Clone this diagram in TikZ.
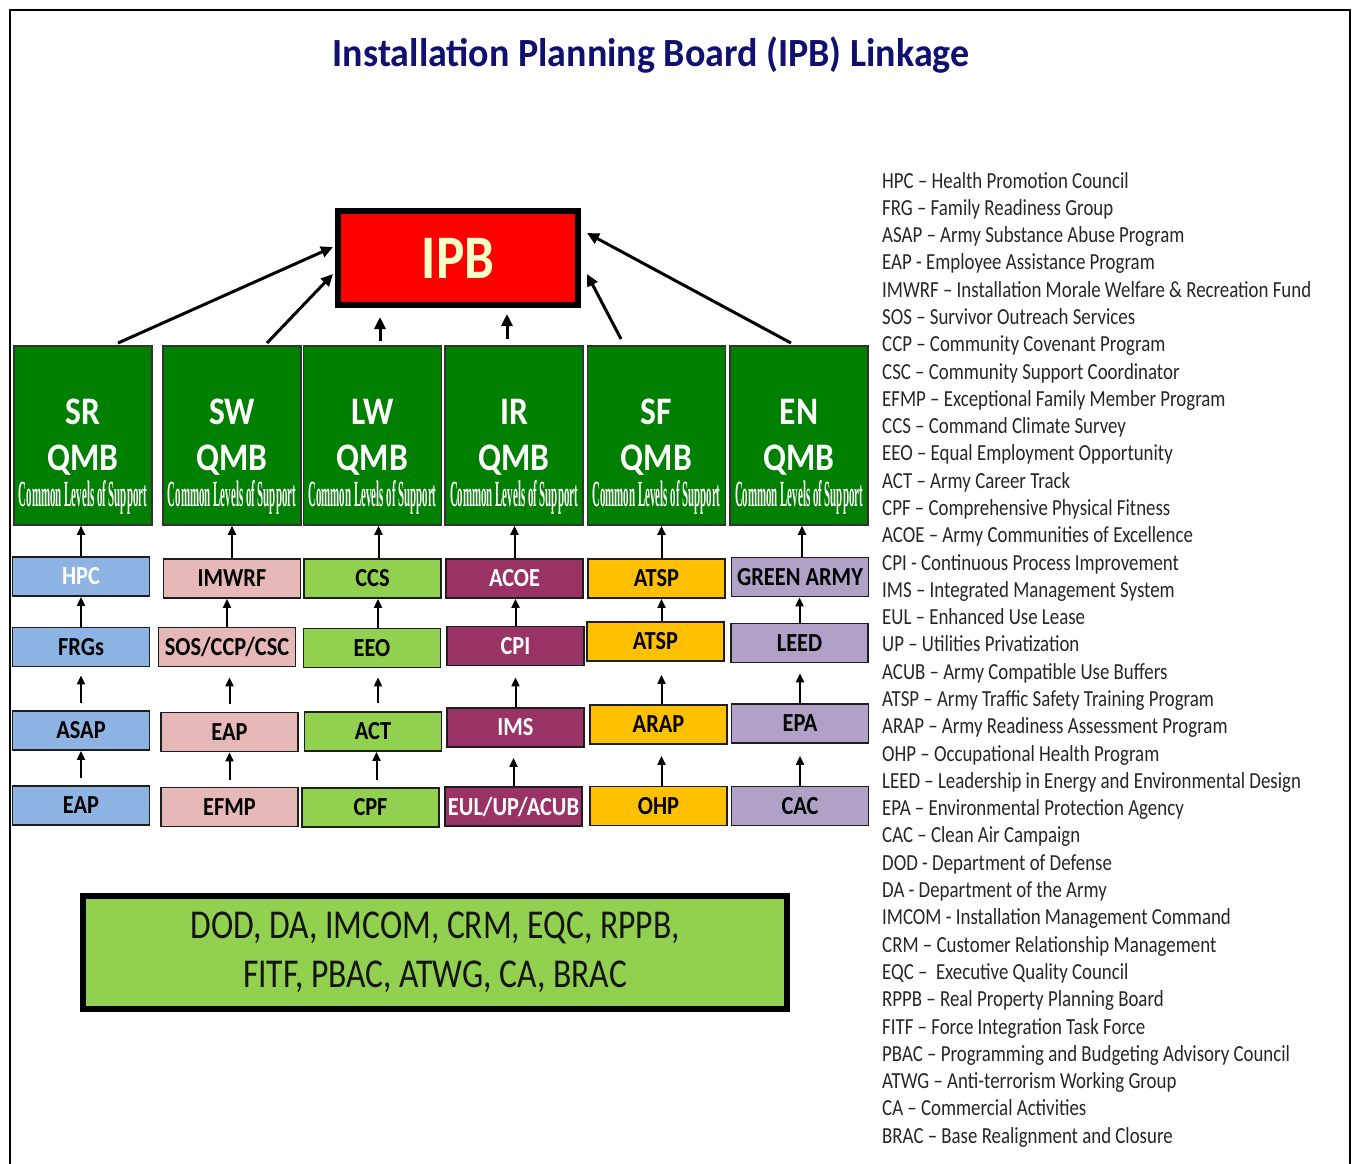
\documentclass[tikz,border=0pt]{standalone}
\usepackage{fontspec}
\setmainfont{Carlito}
\newfontfamily\titlefont{Carlito}[FakeStretch=0.95]
\newfontfamily\cfont{Carlito}[FakeStretch=0.86]
\newfontfamily\lfont{Carlito}[FakeStretch=0.82]
\newfontfamily\wafont{Liberation Serif}
\usetikzlibrary{arrows.meta,calc}
\definecolor{navy}{RGB}{16,16,112}
\definecolor{qgreen}{RGB}{0,128,0}
\definecolor{qline}{RGB}{50,50,50}
\definecolor{cblue}{RGB}{141,180,226}
\definecolor{cpink}{RGB}{230,185,184}
\definecolor{clgreen}{RGB}{146,208,80}
\definecolor{cmaroon}{RGB}{153,51,102}
\definecolor{corange}{RGB}{255,192,0}
\definecolor{clav}{RGB}{178,161,199}
\definecolor{ipbtext}{RGB}{255,255,200}
\definecolor{legtext}{RGB}{38,38,38}
\definecolor{boxline}{RGB}{30,30,30}
\newcommand\qmbbox[3]{%
  \node[qmb] (#1) at (#2,435.5) {};
  \node[qmbtxt] (#1-a) at ($(#1.center)+(0,-23.5)$) {#3};
  \node[qmbtxt] (#1-b) at ($(#1.center)+(0,24.5)$) {QMB};
  \node[wa] (#1-c) at ($(#1.center)+(0,62)$) {\resizebox{128pt}{26pt}{\bfseries Common Levels of Support}};
}
\begin{document}
\begin{tikzpicture}[x=1pt,y=-1pt,
  qmb/.style={draw=qline, fill=qgreen, line width=1.5pt, minimum width=138pt, minimum height=179pt, inner sep=0pt},
  qmbtxt/.style={text=white, inner sep=0pt, font={\cfont\bfseries\fontsize{39}{44}\selectfont}},
  wa/.style={text=white, inner sep=0pt, font=\wafont},
  cbox/.style={draw=boxline, line width=1.8pt, minimum width=137pt, minimum height=39pt, inner sep=0pt, font={\cfont\bfseries\fontsize{26}{30}\selectfont}},
  bl/.style={cbox, fill=cblue, text=black},
  pk/.style={cbox, fill=cpink, text=black},
  lg/.style={cbox, fill=clgreen, text=black},
  mr/.style={cbox, fill=cmaroon, text=white},
  og/.style={cbox, fill=corange, text=black},
  lv/.style={cbox, fill=clav, text=black},
  up/.style={-{Triangle[length=9pt,width=8pt]}, line width=2pt},
  bigup/.style={-{Triangle[length=12pt,width=11pt]}, line width=3pt},
  leg/.style={anchor=base west, inner sep=0pt, text=legtext, font={\lfont\fontsize{23}{27}\selectfont}}
]
\useasboundingbox (0,0) rectangle (1354,1163);
% frame
\draw[line width=2.5pt] (10,1175) -- (10,10) -- (1350,10) -- (1350,1175);
% title
\node[text=navy, font={\titlefont\bfseries\fontsize{40}{46}\selectfont}] (title) at (651,55) {Installation Planning Board (IPB) Linkage};
% IPB
\node[draw=black, fill=red, line width=6pt, minimum width=240pt, minimum height=94pt, inner sep=0pt, text=ipbtext, font={\cfont\bfseries\fontsize{62}{70}\selectfont}] (ipb) at (458,258) {IPB};
% QMBs
\qmbbox{srq}{83}{SR}
\qmbbox{swq}{232}{SW}
\qmbbox{lwq}{372.5}{LW}
\qmbbox{irq}{514}{IR}
\qmbbox{sfq}{656.5}{SF}
\qmbbox{enq}{799}{EN}
% top arrows
\coordinate (s1) at (118,343); \coordinate (t1) at (333,247);
\coordinate (s2) at (267,343); \coordinate (t2) at (333,274);
\coordinate (s3) at (380,341); \coordinate (t3) at (380,317);
\coordinate (s4) at (507,339); \coordinate (t4) at (507,314);
\coordinate (s5) at (621,339); \coordinate (t5) at (587,274);
\coordinate (s6) at (791,343); \coordinate (t6) at (587,233);
\draw[bigup] (s1) -- (t1);
\draw[bigup] (s2) -- (t2);
\draw[bigup] (s3) -- (t3);
\draw[bigup] (s4) -- (t4);
\draw[bigup] (s5) -- (t5);
\draw[bigup] (s6) -- (t6);
% column SR
\node[bl, text=white] (hpc) at (81,576.5) {HPC};
\node[bl] (frg) at (81,647) {FRGs};
\node[bl] (asap) at (81,730.5) {ASAP};
\node[bl] (eap1) at (81,805.5) {EAP};
% column SW
\node[pk] (imwrf) at (232,578.5) {IMWRF};
\node[pk] (sos) at (227,647) {SOS/CCP/CSC};
\node[pk] (eap2) at (229.5,732) {EAP};
\node[pk] (efmp) at (229.5,807) {EFMP};
% column LW
\node[lg] (ccs) at (372.5,578.5) {CCS};
\node[lg] (eeo) at (372,648) {EEO};
\node[lg] (act) at (373,731.5) {ACT};
\node[lg] (cpf) at (370.5,807.5) {CPF};
% column IR
\node[mr] (acoe) at (514.5,578.5) {ACOE};
\node[mr] (cpi) at (515.5,646) {CPI};
\node[mr] (ims) at (515.5,727.5) {IMS};
\node[mr] (eul) at (513.5,806.5) {EUL/UP/ACUB};
% column SF
\node[og] (atsp1) at (656.5,578.5) {ATSP};
\node[og] (atsp2) at (655.5,641.5) {ATSP};
\node[og] (arap) at (658.5,724.5) {ARAP};
\node[og] (ohp) at (658.5,806) {OHP};
% column EN
\node[lv] (green) at (800,577) {GREEN ARMY};
\node[lv] (leed) at (799.5,643) {LEED};
\node[lv] (epa) at (800,723.5) {EPA};
\node[lv] (cac) at (800,806) {CAC};
% column arrows SR
\draw[up] (hpc.north) -- (hpc.north |- srq.south);
\draw[up] (frg.north) -- (frg.north |- hpc.south);
\draw[up, shorten <=7pt, shorten >=8pt] (asap.north) -- (asap.north |- frg.south);
\draw[up, shorten <=7pt] (eap1.north) -- (eap1.north |- asap.south);
% SW
\draw[up] (imwrf.north) -- (imwrf.north |- swq.south);
\draw[up] (sos.north) -- (sos.north |- imwrf.south);
\draw[up, shorten <=8pt, shorten >=10pt] (eap2.north) -- (eap2.north |- sos.south);
\draw[up, shorten <=7pt] (efmp.north) -- (efmp.north |- eap2.south);
% LW
\draw[up] ($(ccs.north)+(6,0)$) -- ($(ccs.north |- lwq.south)+(6,0)$);
\draw[up] ($(eeo.north)+(6,0)$) -- ($(eeo.north |- ccs.south)+(6,0)$);
\draw[up, shorten <=8pt, shorten >=9pt] ($(act.north)+(5,0)$) -- ($(act.north |- eeo.south)+(5,0)$);
\draw[up, shorten <=7pt] ($(cpf.north)+(6,0)$) -- ($(cpf.north |- act.south)+(6,0)$);
% IR
\draw[up] (acoe.north) -- (acoe.north |- irq.south);
\draw[up] (cpi.north) -- (cpi.north |- acoe.south);
\draw[up, shorten >=11pt] (ims.north) -- (ims.north |- cpi.south);
\draw[up, shorten >=10pt] (eul.north) -- (eul.north |- ims.south);
% SF
\draw[up] ($(atsp1.north)+(5,0)$) -- ($(atsp1.north |- sfq.south)+(5,0)$);
\draw[up] ($(atsp2.north)+(6,0)$) -- ($(atsp2.north |- atsp1.south)+(6,0)$);
\draw[up, shorten >=13pt] ($(arap.north)+(3,0)$) -- ($(arap.north |- atsp2.south)+(3,0)$);
\draw[up, shorten >=11pt] ($(ohp.north)+(3,0)$) -- ($(ohp.north |- arap.south)+(3,0)$);
% EN
\draw[up] ($(green.north)+(2,0)$) -- ($(green.north |- enq.south)+(2,0)$);
\draw[up] (leed.north) -- (leed.north |- green.south);
\draw[up, shorten >=10pt] (epa.north) -- (epa.north |- leed.south);
\draw[up, shorten >=12pt] (cac.north) -- (cac.north |- epa.south);
% bottom box
\node[draw=black, fill=clgreen, line width=5.5pt, minimum width=704pt, minimum height=113pt, inner sep=0pt, align=center, text={rgb,255:red,20;green,20;blue,20}, font={\lfont\fontsize{41}{49}\selectfont}] (orgs) at (435,952.5) {DOD, DA, IMCOM, CRM, EQC, RPPB,\\FITF, PBAC, ATWG, CA, BRAC};
% legend
\foreach \t [count=\i from 0] in {
HPC – Health Promotion Council,
FRG – Family Readiness Group,
ASAP – Army Substance Abuse Program,
EAP - Employee Assistance Program,
IMWRF – Installation Morale Welfare \& Recreation Fund,
SOS – Survivor Outreach Services,
CCP – Community Covenant Program,
CSC – Community Support Coordinator,
EFMP – Exceptional Family Member Program,
CCS – Command Climate Survey,
EEO – Equal Employment Opportunity,
ACT – Army Career Track,
CPF – Comprehensive Physical Fitness,
ACOE – Army Communities of Excellence,
CPI - Continuous Process Improvement,
IMS – Integrated Management System,
EUL – Enhanced Use Lease,
UP – Utilities Privatization,
ACUB – Army Compatible Use Buffers,
ATSP – Army Traffic Safety Training Program,
ARAP – Army Readiness Assessment Program,
OHP – Occupational Health Program,
LEED – Leadership in Energy and Environmental Design,
EPA – Environmental Protection Agency,
CAC – Clean Air Campaign,
DOD - Department of Defense,
DA - Department of the Army,
IMCOM - Installation Management Command,
CRM – Customer Relationship Management,
EQC – \ Executive Quality Council,
RPPB – Real Property Planning Board,
FITF – Force Integration Task Force,
PBAC – Programming and Budgeting Advisory Council,
ATWG – Anti-terrorism Working Group,
CA – Commercial Activities,
BRAC – Base Realignment and Closure}
{\node[leg] (leg\i) at (882,188+27.29*\i) {\t};}
\end{tikzpicture}
\end{document}
